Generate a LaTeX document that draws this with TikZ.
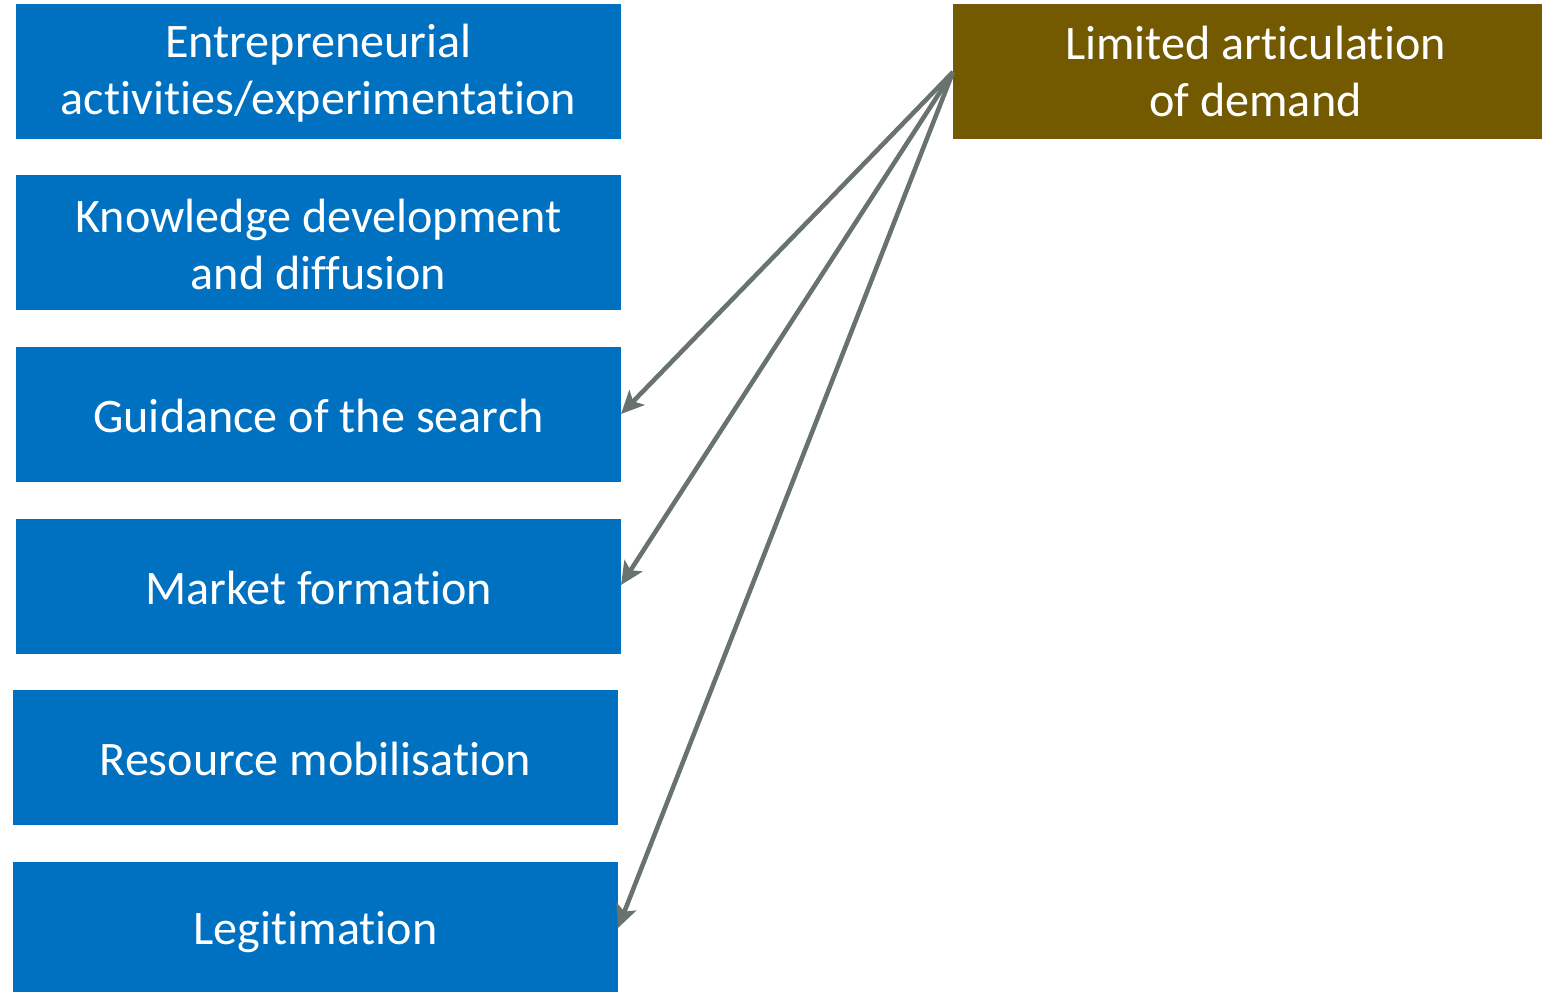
\documentclass[tikz,border=0pt]{standalone}
\usepackage{fontspec}
\setmainfont[RawFeature={-liga}]{Carlito}
\usetikzlibrary{arrows.meta}
\definecolor{boxblue}{HTML}{0070C0}
\definecolor{boxbrown}{HTML}{735A00}
\definecolor{arrgray}{HTML}{68736D}
\begin{document}
\begin{tikzpicture}[x=0.02cm,y=-0.02cm,
  fbox/.style={fill=boxblue,draw=none,text=white,align=center,font=\fontsize{27.4pt}{32.4pt}\selectfont,inner sep=0},
  bbox/.style={fill=boxbrown,draw=none,text=white,align=center,font=\fontsize{27.4pt}{32.4pt}\selectfont,inner sep=0},
  conn/.style={draw=arrgray,line width=2.6pt,-{Stealth[length=13pt,width=12pt,inset=3pt]}}]
\useasboundingbox (0,0) rectangle (1542,991);
\path[fbox] (16,4) rectangle (621,139) node[pos=.5,yshift=-1pt] (f1) {Entrepreneurial\\activities/experimentation};
\path[fbox] (16,175) rectangle (621,310) node[pos=.5,yshift=-1pt] (f2) {Knowledge development\\and diffusion};
\path[fbox] (16,347) rectangle (621,482) node[pos=.5,yshift=-1pt] (f3) {Guidance of the search};
\path[fbox] (16,519) rectangle (621,654) node[pos=.5,yshift=-1pt] (f4) {Market formation};
\path[fbox] (13,690) rectangle (618,825) node[pos=.5,yshift=-1pt] (f5) {Resource mobilisation};
\path[fbox] (13,862) rectangle (618,995) node[pos=.5,yshift=-2pt] (f6) {Legitimation};
\path[bbox] (953,4) rectangle (1542,139) node[pos=.5,xshift=0.16cm] (d) {Limited articulation\\of demand};
\coordinate (ds) at (953,72);
\coordinate (e3) at (621,414);
\coordinate (e4) at (621,585);
\coordinate (e6) at (618,928);
\draw[conn] (ds) -- (e3);
\draw[conn] (ds) -- (e4);
\draw[conn] (ds) -- (e6);
\end{tikzpicture}
\end{document}
